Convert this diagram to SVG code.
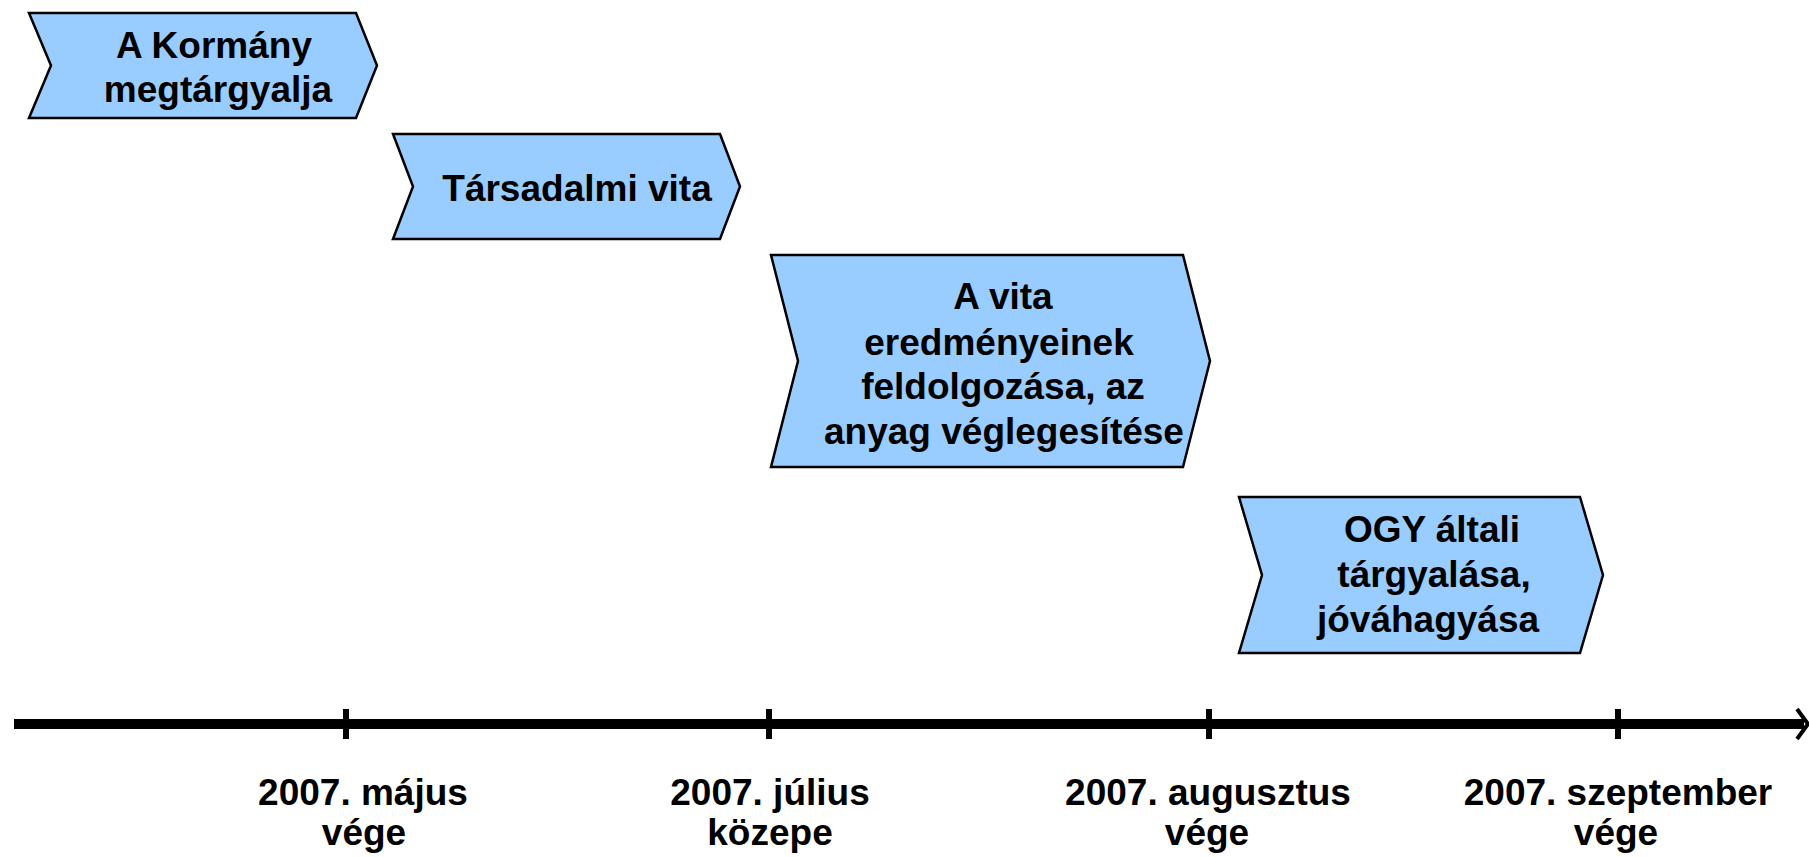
<svg xmlns="http://www.w3.org/2000/svg" width="1809" height="857" viewBox="0 0 1809 857">
<style>
.box{fill:#99CCFF;stroke:#000;stroke-width:2.5;stroke-linejoin:miter}
.t{font-family:"Liberation Sans",Arial,sans-serif;font-weight:bold;font-size:37px;fill:#000;text-anchor:middle}
.lbl{font-family:"Liberation Sans",Arial,sans-serif;font-weight:bold;font-size:37px;fill:#000;text-anchor:middle}
.axis{stroke:#000;stroke-width:10;fill:none}
.tick{stroke:#000;stroke-width:6}
</style>
<rect width="1809" height="857" fill="#fff"/>
<g id="n1">
<polygon class="box" points="29,13 356,13 377,65.5 356,118 29,118 51,65.5"/>
<text class="t" x="214" y="58">A Kormány</text>
<text class="t" x="218" y="102">megtárgyalja</text>
</g>
<g id="n2">
<polygon class="box" points="393,134 720,134 740,186.5 720,239 393,239 413,186.5"/>
<text class="t" x="577" y="201">Társadalmi vita</text>
</g>
<g id="n3">
<polygon class="box" points="771,255 1183,255 1210,361 1183,467 771,467 798,361"/>
<text class="t" x="1003" y="309">A vita</text>
<text class="t" x="999" y="355">eredményeinek</text>
<text class="t" x="1003" y="399">feldolgozása, az</text>
<text class="t" x="1004" y="444">anyag véglegesítése</text>
</g>
<g id="n4">
<polygon class="box" points="1239,497 1580,497 1603,575 1580,653 1239,653 1262,575"/>
<text class="t" x="1432" y="542">OGY általi</text>
<text class="t" x="1434" y="587">tárgyalása,</text>
<text class="t" x="1428" y="632">jóváhagyása</text>
</g>
<g id="connectors">
<line class="axis" x1="14" y1="724" x2="1804" y2="724"/>
<path d="M1797,709 L1808,724 L1797,739" fill="none" stroke="#000" stroke-width="4"/>
<line class="tick" x1="346" y1="709" x2="346" y2="739"/>
<line class="tick" x1="769" y1="709" x2="769" y2="739"/>
<line class="tick" x1="1209" y1="709" x2="1209" y2="739"/>
<line class="tick" x1="1618" y1="709" x2="1618" y2="739"/>
</g>
<g id="labels">
<text class="lbl" x="363" y="805">2007. május</text>
<text class="lbl" x="364" y="845">vége</text>
<text class="lbl" x="770" y="805">2007. július</text>
<text class="lbl" x="770" y="845">közepe</text>
<text class="lbl" x="1208" y="805">2007. augusztus</text>
<text class="lbl" x="1207" y="845">vége</text>
<text class="lbl" x="1618" y="805">2007. szeptember</text>
<text class="lbl" x="1616" y="845">vége</text>
</g>
</svg>
